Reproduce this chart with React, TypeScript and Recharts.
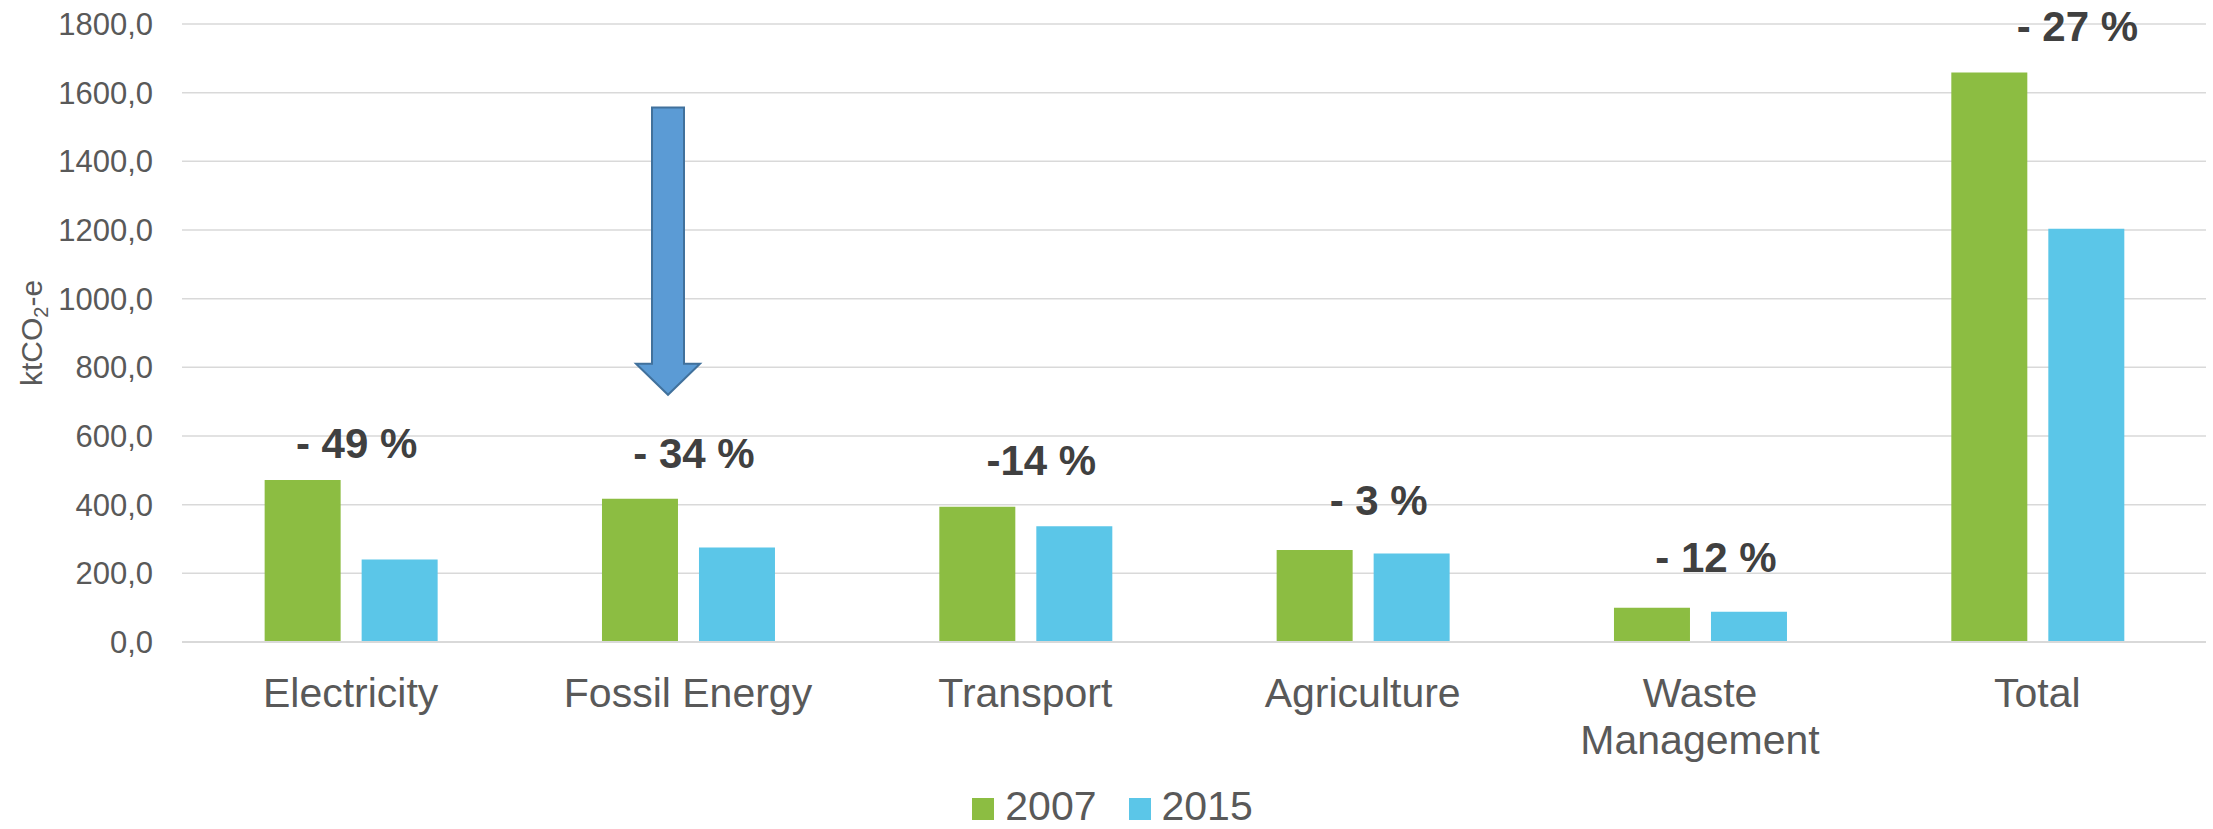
import { BarChart, Bar, XAxis, YAxis, CartesianGrid, Legend, ReferenceDot, ReferenceLine } from 'recharts';

const sectors = ['Electricity', 'Fossil Energy', 'Transport', 'Agriculture', 'Waste Management', 'Total'];
const values2007 = [472, 417, 394, 268, 100, 1659];
const values2015 = [240, 275, 337, 258, 88, 1204];
const changeLabels = ['- 49 %', '- 34 %', '-14 %', '- 3 %', '- 12 %', '- 27 %'];
// where the change labels sit, in ktCO2-e (text baseline)
const changeLabelAt = [536, 508, 485, 371, 203, 1751];
const yTicks = [0, 200, 400, 600, 800, 1000, 1200, 1400, 1600, 1800];
// arrow drawn over Fossil Energy, from / to (ktCO2-e)
const arrowFrom = 1557;
const arrowTo = 720;

const labelNudge = [6, 6, 16, 16, 16, 40];

const FONT = '"Liberation Sans", Arial, sans-serif';
const GREEN = '#8CBD42';
const BLUE = '#5BC6E8';

const data = sectors.map((s, i) => ({ sector: s, y2007: values2007[i], y2015: values2015[i] }));

const fmt = (v: number) => v.toFixed(1).replace('.', ',');

function SectorTick({ x, y, payload }: any) {
  const lines = payload.value === 'Waste Management' ? ['Waste', 'Management'] : [payload.value];
  return (
    <text x={x} y={y} textAnchor="middle" fill="#595959" fontFamily={FONT} fontSize={41}>
      {lines.map((l, i) => (
        <tspan key={l} x={x} dy={i === 0 ? 65 : 47}>{l}</tspan>
      ))}
    </text>
  );
}

function Arrow({ x1, y1, y2 }: any) {
  const cx = x1 - 20;
  const headLen = 31;
  const shaft = 16;
  const head = 32;
  const hy = y2 - headLen;
  const pts = [
    [cx - shaft, y1], [cx + shaft, y1], [cx + shaft, hy], [cx + head, hy],
    [cx, y2], [cx - head, hy], [cx - shaft, hy],
  ].map(p => p.join(',')).join(' ');
  return <polygon points={pts} fill="#5B9BD5" stroke="#41719C" strokeWidth={2} />;
}

function LegendBox() {
  const item = (color: string, text: string, ml: number) => (
    <div style={{ display: 'flex', alignItems: 'center', marginLeft: ml }}>
      <div style={{ width: 22, height: 22, background: color, marginRight: 11, marginTop: 6 }} />
      <span style={{ lineHeight: '41px' }}>{text}</span>
    </div>
  );
  return (
    <div style={{ display: 'flex', justifyContent: 'center', alignItems: 'center', height: 46, paddingLeft: 19, fontFamily: FONT, fontSize: 41, color: '#595959' }}>
      {item(GREEN, '2007', 0)}
      {item(BLUE, '2015', 32)}
    </div>
  );
}

function YLabel({ viewBox }: any) {
  const x = viewBox.x + 42;
  const y = viewBox.y + viewBox.height / 2;
  return (
    <text x={x} y={y} transform={`rotate(-90, ${x}, ${y})`} textAnchor="middle" fill="#595959" fontFamily={FONT} fontSize={30}>
      ktCO<tspan fontSize={20} dy={6}>2</tspan><tspan dy={-6}>-e</tspan>
    </text>
  );
}

export default function App() {
  return (
    <div style={{ position: 'absolute', left: 0, top: 0, width: 2213, height: 829, background: '#fff' }}>
      <BarChart width={2213} height={829} data={data} margin={{ top: 24, right: 7, bottom: 0, left: 0 }}
        barCategoryGap="24.5%" barGap={21}>
        <CartesianGrid vertical={false} stroke="#D9D9D9" strokeWidth={1.5} />
        <XAxis dataKey="sector" height={141} tick={<SectorTick />} tickLine={false} tickSize={0} tickMargin={0}
          axisLine={{ stroke: '#D9D9D9', strokeWidth: 2 }} interval={0} />
        <YAxis width={182} domain={[0, 1800]} ticks={yTicks} tickFormatter={fmt} axisLine={false} tickLine={false}
          tickSize={0} tickMargin={29} tick={{ fill: '#595959', fontFamily: FONT, fontSize: 31 }}
          label={{ content: <YLabel /> }} />
        <Legend verticalAlign="bottom" content={<LegendBox />} />
        <Bar dataKey="y2007" name="2007" fill={GREEN} isAnimationActive={false} />
        <Bar dataKey="y2015" name="2015" fill={BLUE} isAnimationActive={false} />
        <ReferenceLine segment={[{ x: 'Fossil Energy', y: arrowFrom }, { x: 'Fossil Energy', y: arrowTo }]}
          shape={<Arrow />} />
        {sectors.map((s, i) => (
          <ReferenceDot key={s} x={s} y={changeLabelAt[i]} r={0}
            shape={(p: any) => (
              <text x={p.cx + labelNudge[i]} y={p.cy} textAnchor="middle" fill="#404040" fontFamily={FONT} fontSize={42} fontWeight="bold">
                {changeLabels[i]}
              </text>
            )} />
        ))}
      </BarChart>
    </div>
  );
}
